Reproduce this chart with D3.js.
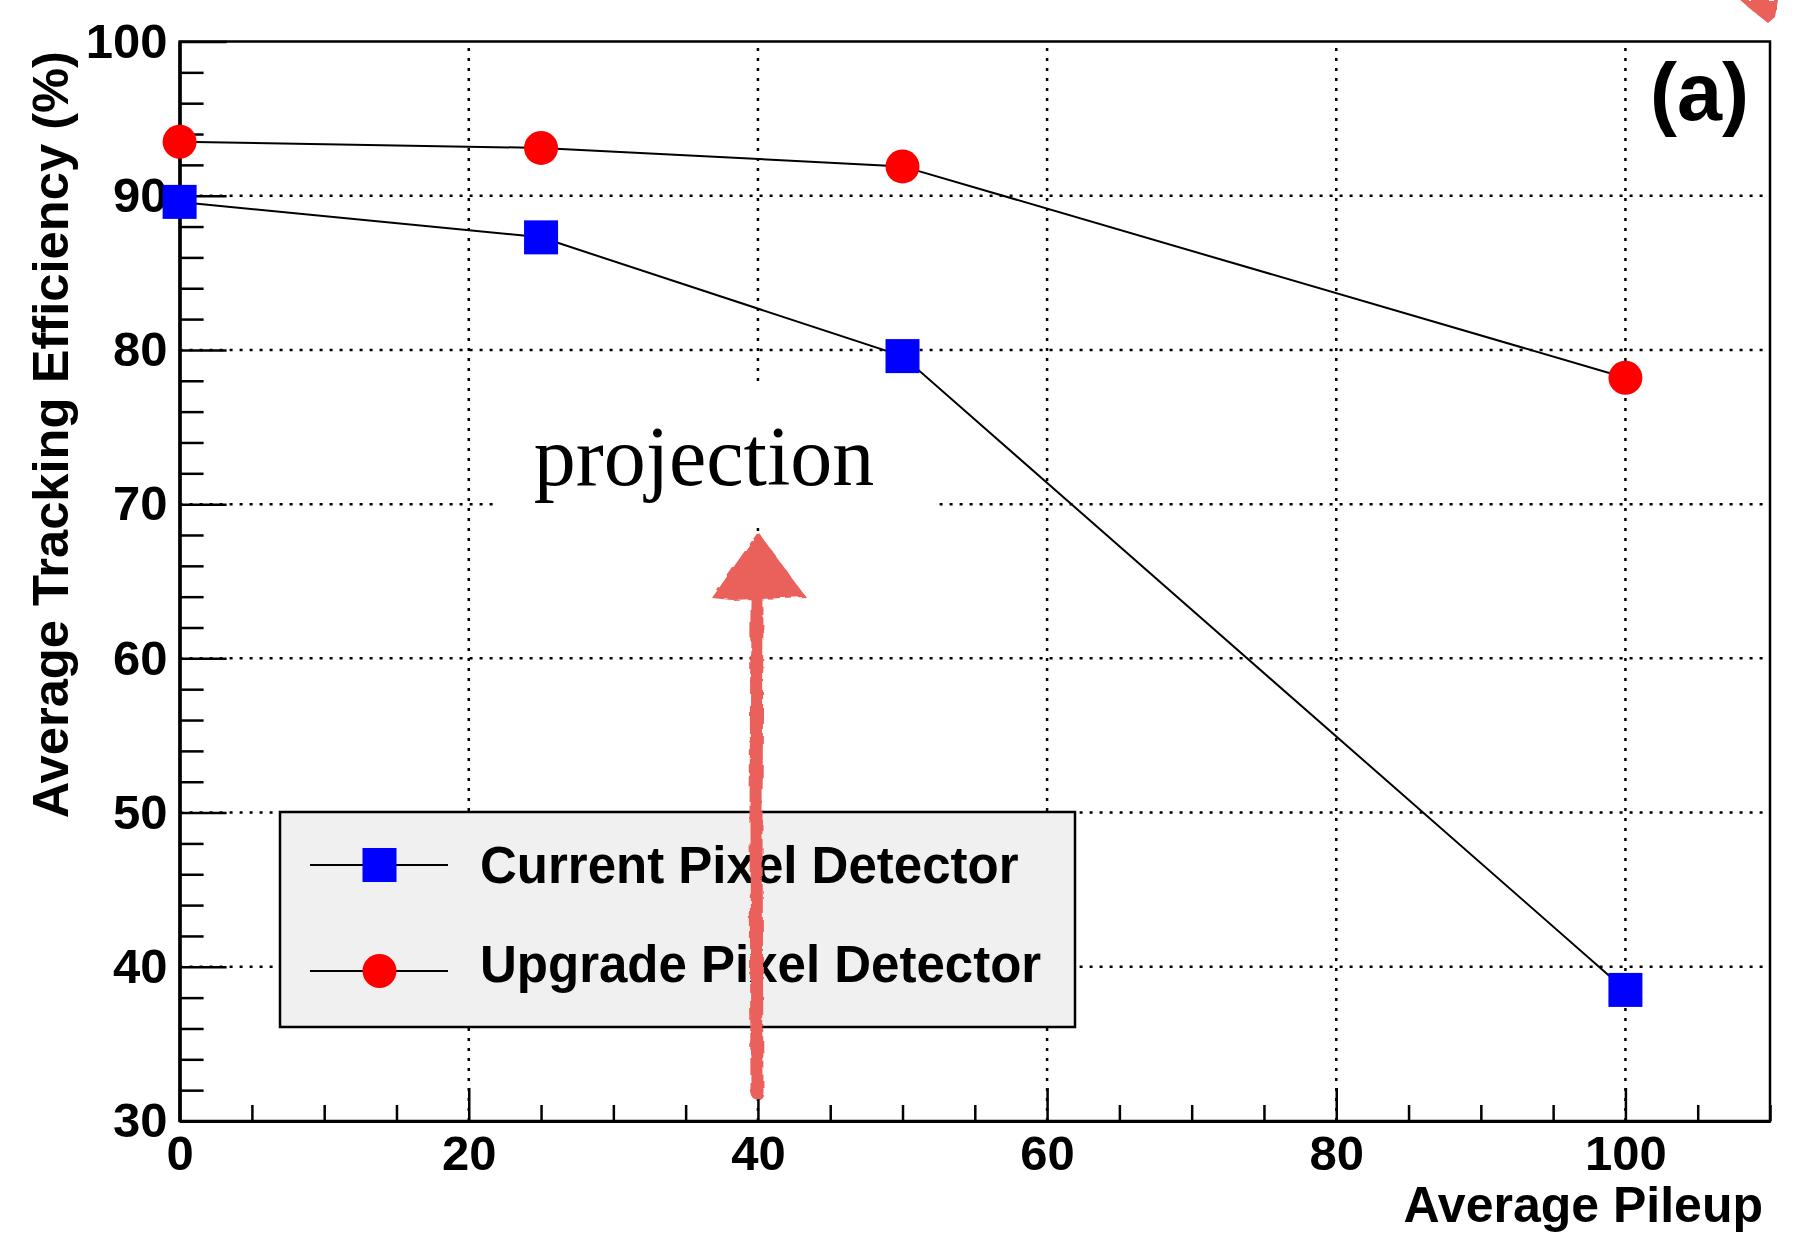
<!DOCTYPE html>
<html>
<head>
<meta charset="utf-8">
<script src="https://cdn.jsdelivr.net/npm/d3@7"></script>
<style>
  body { margin: 0; background: #fff; }
  .tick text { font-family: "Liberation Sans", Arial, Helvetica, sans-serif; font-weight: bold; }
  .grid-line { stroke: #000; stroke-width: 2.5; stroke-dasharray: 3 7; }
</style>
</head>
<body>
<div id="wrapper"></div>
<script>
// data
const pileup = [0, 25, 50, 100]
const currentEff = [89.6, 87.3, 79.6, 38.5]
const upgradeEff = [93.5, 93.1, 91.9, 78.2]
const seriesNames = ["Current Pixel Detector", "Upgrade Pixel Detector"]
const xMajorTicks = [0, 20, 40, 60, 80, 100]
const yMajorTicks = [30, 40, 50, 60, 70, 80, 90, 100]
const xGridTicks = [20, 40, 60, 80, 100]
const yGridTicks = [40, 50, 60, 70, 80, 90]

function drawChart() {

  // 1. dimensions
  const dimensions = {
    width: 1794,
    height: 1238,
    margin: { top: 41.5, right: 24, bottom: 117, left: 179.6 },
  }
  dimensions.boundedWidth = dimensions.width - dimensions.margin.left - dimensions.margin.right
  dimensions.boundedHeight = dimensions.height - dimensions.margin.top - dimensions.margin.bottom

  const fontSans = '"Liberation Sans", Arial, Helvetica, sans-serif'

  // 2. canvas
  const wrapper = d3.select("#wrapper")
    .append("svg")
      .attr("width", dimensions.width)
      .attr("height", dimensions.height)

  wrapper.append("rect")
    .attr("width", dimensions.width)
    .attr("height", dimensions.height)
    .attr("fill", "#fff")

  const defs = wrapper.append("defs")
  const rough = defs.append("filter").attr("id", "rough")
    .attr("x", "-20%").attr("y", "-20%").attr("width", "140%").attr("height", "140%")
  rough.append("feTurbulence")
    .attr("type", "fractalNoise").attr("baseFrequency", 0.09)
    .attr("numOctaves", 2).attr("result", "noise")
  rough.append("feDisplacementMap")
    .attr("in", "SourceGraphic").attr("in2", "noise").attr("scale", 5)

  const bounds = wrapper.append("g")
    .attr("transform", `translate(${dimensions.margin.left}, ${dimensions.margin.top})`)

  // 3. scales
  const xScale = d3.scaleLinear()
    .domain([0, 110])
    .range([0, dimensions.boundedWidth])

  const yScale = d3.scaleLinear()
    .domain([30, 100])
    .range([dimensions.boundedHeight, 0])

  // 4. grid
  const grid = bounds.append("g")
  grid.selectAll(".gx").data(xGridTicks).join("line")
    .attr("class", "grid-line")
    .attr("x1", d => xScale(d)).attr("x2", d => xScale(d))
    .attr("y1", dimensions.boundedHeight).attr("y2", 0)
  grid.selectAll(".gy").data(yGridTicks).join("line")
    .attr("class", "grid-line")
    .attr("x1", 0).attr("x2", dimensions.boundedWidth)
    .attr("y1", d => yScale(d)).attr("y2", d => yScale(d))

  // white patch behind the annotation
  bounds.append("rect")
    .attr("x", 497 - dimensions.margin.left)
    .attr("y", 385 - dimensions.margin.top)
    .attr("width", 438)
    .attr("height", 140)
    .attr("fill", "#fff")

  bounds.append("text")
    .text("projection")
    .attr("x", 704 - dimensions.margin.left)
    .attr("y", 485 - dimensions.margin.top)
    .attr("text-anchor", "middle")
    .style("font-family", '"Liberation Serif", "Times New Roman", serif')
    .style("font-size", "84px")

  // 5. axes
  const xMinor = d3.range(0, 111, 5).filter(d => d % 20 !== 0)
  const yMinor = d3.range(30, 101, 2).filter(d => d % 10 !== 0)

  const xMinorAxis = d3.axisBottom(xScale).tickValues(xMinor)
    .tickSizeInner(-16).tickSizeOuter(0).tickFormat("")
  const xAxis = d3.axisBottom(xScale).tickValues(xMajorTicks)
    .tickSizeInner(-33).tickSizeOuter(0).tickPadding(14)
  const yMinorAxis = d3.axisLeft(yScale).tickValues(yMinor)
    .tickSizeInner(-24).tickSizeOuter(0).tickFormat("")
  const yAxis = d3.axisLeft(yScale).tickValues(yMajorTicks)
    .tickSizeInner(-47).tickSizeOuter(0).tickPadding(12)

  const styleAxis = g => {
    g.select(".domain").attr("stroke-width", 3)
    g.selectAll(".tick line").attr("stroke-width", 2.5)
    g.selectAll(".tick text").style("font-size", "49px")
  }

  bounds.append("g").attr("transform", `translate(0, ${dimensions.boundedHeight})`)
    .call(xMinorAxis).call(styleAxis)
  bounds.append("g").attr("transform", `translate(0, ${dimensions.boundedHeight})`)
    .call(xAxis).call(styleAxis)
  bounds.append("g").call(yMinorAxis).call(styleAxis)
  bounds.append("g").call(yAxis).call(styleAxis)

  // frame
  bounds.append("rect")
    .attr("width", dimensions.boundedWidth)
    .attr("height", dimensions.boundedHeight)
    .attr("fill", "none")
    .attr("stroke", "#000")
    .attr("stroke-width", 2.5)

  // 6. data
  const lineGen = d3.line()
    .x(d => xScale(d[0]))
    .y(d => yScale(d[1]))

  const currentPts = pileup.map((p, i) => [p, currentEff[i]])
  const upgradePts = pileup.map((p, i) => [p, upgradeEff[i]])

  ;[currentPts, upgradePts].forEach(pts => {
    bounds.append("path")
      .attr("d", lineGen(pts))
      .attr("fill", "none")
      .attr("stroke", "#000")
      .attr("stroke-width", 2)
  })

  const markerSize = 34
  bounds.selectAll(".sq").data(currentPts).join("rect")
    .attr("x", d => xScale(d[0]) - markerSize / 2)
    .attr("y", d => yScale(d[1]) - markerSize / 2)
    .attr("width", markerSize)
    .attr("height", markerSize)
    .attr("fill", "#0000ff")

  bounds.selectAll(".dot").data(upgradePts).join("circle")
    .attr("cx", d => xScale(d[0]))
    .attr("cy", d => yScale(d[1]))
    .attr("r", markerSize / 2)
    .attr("fill", "#ff0000")

  // 7. legend
  const legend = wrapper.append("g").attr("transform", "translate(280, 812)")
  legend.append("rect")
    .attr("width", 795)
    .attr("height", 215)
    .attr("fill", "#f0f0f0")
    .attr("stroke", "#000")
    .attr("stroke-width", 2.5)

  const rows = [53, 159]
  seriesNames.forEach((name, i) => {
    const row = legend.append("g").attr("transform", `translate(0, ${rows[i]})`)
    row.append("line")
      .attr("x1", 30).attr("x2", 168)
      .attr("stroke", "#000").attr("stroke-width", 2)
    if (i === 0) {
      row.append("rect")
        .attr("x", 99.5 - markerSize / 2).attr("y", -markerSize / 2)
        .attr("width", markerSize).attr("height", markerSize)
        .attr("fill", "#0000ff")
    } else {
      row.append("circle")
        .attr("cx", 99.5).attr("r", markerSize / 2)
        .attr("fill", "#ff0000")
    }
    row.append("text")
      .text(name)
      .attr("x", 200)
      .attr("dy", i === 0 ? "0.35em" : "0.22em")
      .style("font-family", fontSans)
      .style("font-weight", "bold")
      .style("font-size", "51px")
  })

  // 8. titles
  wrapper.append("text")
    .text("Average Pileup")
    .attr("x", 1763)
    .attr("y", 1222)
    .attr("text-anchor", "end")
    .style("font-family", fontSans)
    .style("font-weight", "bold")
    .style("font-size", "50px")

  wrapper.append("text")
    .text("Average Tracking Efficiency (%)")
    .attr("transform", "translate(68, 51) rotate(-90)")
    .attr("text-anchor", "end")
    .style("font-family", fontSans)
    .style("font-weight", "bold")
    .style("font-size", "50.7px")

  wrapper.append("text")
    .text("(a)")
    .attr("x", 1749)
    .attr("y", 120)
    .attr("text-anchor", "end")
    .style("font-family", fontSans)
    .style("font-weight", "bold")
    .style("font-size", "81px")

  // 9. hand drawn arrow annotation
  const arrowColor = "#ea605a"
  const arrow = wrapper.append("g").attr("filter", "url(#rough)")
  arrow.append("path")
    .attr("d", "M757,1093 L756,820 L757,600")
    .attr("fill", "none")
    .attr("stroke", arrowColor)
    .attr("stroke-width", 13)
    .attr("stroke-linecap", "round")
  arrow.append("path")
    .attr("d", "M758,532 L712,598 L732,600 L806,597 Z")
    .attr("fill", arrowColor)
  arrow.append("path")
    .attr("d", "M1740,0 L1778,0 L1775,17 L1768,23 L1754,12 Z")
    .attr("fill", arrowColor)
}
drawChart()
</script>
</body>
</html>
